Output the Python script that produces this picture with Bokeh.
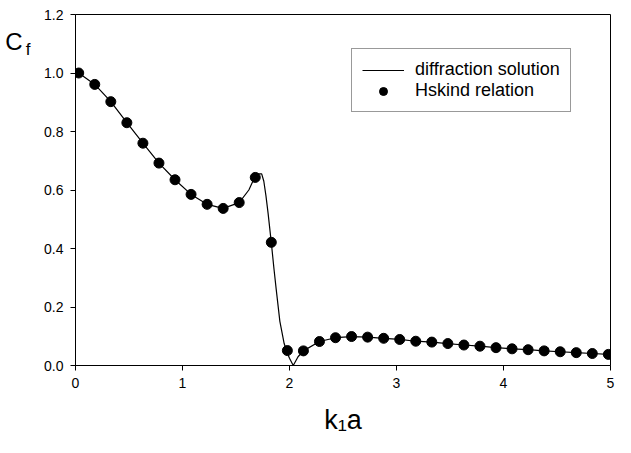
from bokeh.plotting import figure
from bokeh.models import Range1d, FixedTicker, PrintfTickFormatter, Legend, LegendItem, LinearAxis
from bokeh.embed import file_html
from bokeh.resources import INLINE

# Hskind relation points
hs_x = [0.03, 0.18, 0.33, 0.48, 0.63, 0.78, 0.93, 1.08, 1.23, 1.38, 1.53, 1.68,
        1.83, 1.98, 2.13, 2.28, 2.43, 2.58, 2.73, 2.88, 3.03, 3.18, 3.33, 3.48,
        3.63, 3.78, 3.93, 4.08, 4.23, 4.38, 4.53, 4.68, 4.83, 4.98]
hs_y = [1.000, 0.961, 0.902, 0.830, 0.760, 0.692, 0.635, 0.585, 0.551, 0.537, 0.557, 0.643,
        0.421, 0.051, 0.050, 0.082, 0.095, 0.099, 0.097, 0.093, 0.089, 0.083, 0.080, 0.075,
        0.070, 0.066, 0.061, 0.057, 0.054, 0.050, 0.047, 0.044, 0.041, 0.038]

# diffraction solution curve
df_x = [0.0, 0.03, 0.18, 0.33, 0.48, 0.63, 0.78, 0.93, 1.08, 1.23, 1.38, 1.53, 1.62,
        1.68, 1.70, 1.74, 1.76, 1.78, 1.80, 1.83, 1.855, 1.875, 1.91, 1.95, 1.98, 2.0,
        2.035, 2.08, 2.13, 2.28, 2.43, 2.58, 2.73, 2.88, 3.03, 3.18, 3.33, 3.48, 3.63,
        3.78, 3.93, 4.08, 4.23, 4.38, 4.53, 4.68, 4.83, 4.98, 5.0]
df_y = [1.0, 1.0, 0.961, 0.902, 0.830, 0.760, 0.692, 0.635, 0.585, 0.551, 0.537, 0.557, 0.600,
        0.648, 0.655, 0.655, 0.630, 0.580, 0.520, 0.420, 0.330, 0.263, 0.151, 0.075, 0.042, 0.025,
        0.0, 0.030, 0.050, 0.082, 0.095, 0.099, 0.097, 0.093, 0.089, 0.083, 0.080, 0.075, 0.070,
        0.066, 0.061, 0.057, 0.054, 0.050, 0.047, 0.044, 0.041, 0.038, 0.038]

x_ticks = [0, 1, 2, 3, 4, 5]
y_ticks = [0.0, 0.2, 0.4, 0.6, 0.8, 1.0, 1.2]
x_title = "k\u2081a"
# y title "C" with subscript "f", set beside the top of the y axis
y_title_main = "C"
y_title_main_at = 1.109
y_title_sub = "f"
y_title_sub_at = 1.081

FONT = "Liberation Sans"

p = figure(width=615, height=437, output_backend="svg", toolbar_location=None,
           x_range=Range1d(0, 5), y_range=Range1d(0, 1.2),
           min_border_left=75, min_border_right=5, min_border_top=14, min_border_bottom=69)
p.xgrid.visible = False
p.ygrid.visible = False
p.outline_line_color = "black"
p.outline_line_width = 1
p.background_fill_color = "white"
p.border_fill_color = "white"

for ax in (p.xaxis[0], p.yaxis[0]):
    ax.axis_line_color = "black"
    ax.major_tick_line_color = "black"
    ax.major_tick_out = 5
    ax.major_tick_in = 0
    ax.minor_tick_line_color = None
    ax.major_label_text_font = FONT
    ax.major_label_text_font_size = "14px"
    ax.major_label_text_color = "black"
    ax.major_label_standoff = 7

p.xaxis.ticker = FixedTicker(ticks=x_ticks)
p.yaxis.ticker = FixedTicker(ticks=y_ticks)
p.yaxis.formatter = PrintfTickFormatter(format="%.1f")

p.xaxis.axis_label = x_title
p.xaxis.axis_label_text_font = FONT
p.xaxis.axis_label_text_font_size = "27px"
p.xaxis.axis_label_text_font_style = "normal"
p.xaxis.axis_label_text_color = "black"
p.xaxis.axis_label_standoff = 14


def title_axis(text, at, size, standoff):
    ax = LinearAxis(ticker=FixedTicker(ticks=[at]),
                    major_label_overrides={at: text},
                    axis_line_color=None, major_tick_line_color=None,
                    minor_tick_line_color=None, major_tick_out=0, major_tick_in=0,
                    minor_tick_out=0, minor_tick_in=0, major_label_standoff=standoff,
                    major_label_text_font=FONT, major_label_text_font_size=size,
                    major_label_text_color="black")
    p.add_layout(ax, "left")


title_axis(y_title_sub, y_title_sub_at, "17px", 11)
title_axis(y_title_main, y_title_main_at, "24px", 0)

line_r = p.line(df_x, df_y, line_color="black", line_width=1.2)
pts_r = p.scatter(hs_x, hs_y, marker="circle", size=10, fill_color="black", line_color="black")

legend = Legend(items=[LegendItem(label="diffraction solution", renderers=[line_r]),
                       LegendItem(label="Hskind relation", renderers=[pts_r])],
                location=(276, 253))
legend.label_text_font = FONT
legend.label_text_font_size = "18px"
legend.label_text_color = "black"
legend.label_height = 20
legend.glyph_height = 20
legend.glyph_width = 42
legend.label_standoff = 11
legend.spacing = 0
legend.padding = 10
legend.margin = 0
legend.border_line_color = "#333333"
legend.border_line_width = 1
legend.background_fill_color = "white"
legend.background_fill_alpha = 1.0
p.add_layout(legend, "center")

open("out.html", "w").write(file_html(p, INLINE))
